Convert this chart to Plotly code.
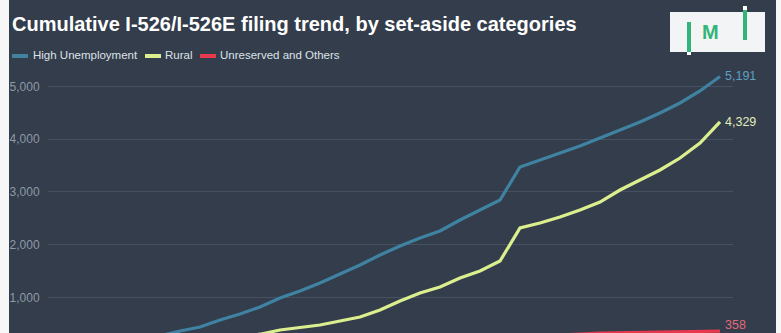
import pandas as pd
import plotly.graph_objects as go

# Monthly periods (x axis)
periods = [d.strftime("%b %Y") for d in pd.date_range("2022-06-01", periods=34, freq="MS")]

# Cumulative filings by set-aside category
high_unemployment = [20, 60, 100, 150, 200, 270, 360, 436, 570, 683, 816, 987,
                     1120, 1271, 1442, 1613, 1803, 1973, 2125, 2258, 2467, 2657,
                     2846, 3472, 3605, 3738, 3871, 4023, 4175, 4326, 4497, 4687,
                     4915, 5191]
rural = [5, 15, 30, 50, 70, 95, 125, 160, 200, 250, 300, 380,
         430, 474, 550, 626, 759, 930, 1082, 1195, 1366, 1499,
         1689, 2315, 2410, 2524, 2657, 2808, 3036, 3226, 3416, 3643,
         3928, 4329]
unreserved = [2, 8, 15, 22, 30, 40, 50, 60, 72, 84, 96, 108,
              120, 132, 145, 158, 170, 182, 195, 208, 220, 232,
              245, 258, 272, 286, 300, 320, 327, 333, 339, 345,
              352, 358]

series = [
    ("High Unemployment", high_unemployment, "#3f82a2", "#5e9fc2"),
    ("Rural", rural, "#dcef8f", "#e4ecbc"),
    ("Unreserved and Others", unreserved, "#e8384d", "#e06a78"),
]

W, H = 781, 333
L, R, T, B = 48, 48, 70, 0
PW, PH = W - L - R, H - T - B


def px(x):
    return (x - L) / PW


def py(y):
    return (H - B - y) / PH


BG = "#333d4b"
GRID = "#465061"

fig = go.Figure()
for name, vals, color, _ in series:
    fig.add_trace(go.Scatter(x=periods, y=vals, mode="lines", name=name,
                             line=dict(color=color, width=3.2),
                             showlegend=False, hoverinfo="skip"))

# End-of-line value labels (the lowest one sits just above the bottom edge)
for name, vals, color, label_color in series:
    low = vals[-1] < 1000
    fig.add_annotation(x=periods[-1], y=vals[-1], text=f"{vals[-1]:,}",
                       xanchor="left", yanchor="bottom" if low else "middle",
                       xshift=3, yshift=-3 if low else 0,
                       showarrow=False,
                       font=dict(family="Liberation Sans, Arial", size=12.5,
                                 color=label_color))

shapes = [
    # dark panel
    dict(type="rect", xref="paper", yref="paper", x0=px(9), x1=px(776),
         y0=py(H + 5), y1=py(-5), fillcolor=BG, line=dict(width=0),
         layer="below"),
]

# Legend
legend_items = [(12, 31), (145, 163), (200, 218)]
for (sx, tx), (name, _, color, _) in zip(legend_items, series):
    shapes.append(dict(type="line", xref="paper", yref="paper",
                       x0=px(sx), x1=px(sx + 16), y0=py(56), y1=py(56),
                       line=dict(color=color, width=4)))
    fig.add_annotation(xref="paper", yref="paper", x=px(tx), y=py(55),
                       text=name, xanchor="left", yanchor="middle",
                       showarrow=False,
                       font=dict(family="Liberation Sans, Arial", size=11.5,
                                 color="#dde2e8"))

# Logo
GREEN = "#33b57a"
shapes += [
    dict(type="rect", xref="paper", yref="paper", x0=px(670), x1=px(765),
         y0=py(52), y1=py(12), fillcolor="#f3f4f6", line=dict(width=0)),
    dict(type="line", xref="paper", yref="paper", x0=px(689), x1=px(689),
         y0=py(52), y1=py(22), line=dict(color=GREEN, width=4)),
    dict(type="rect", xref="paper", yref="paper", x0=px(687), x1=px(691),
         y0=py(55), y1=py(52), fillcolor="#ffffff", line=dict(width=0)),
    dict(type="line", xref="paper", yref="paper", x0=px(745), x1=px(745),
         y0=py(40), y1=py(10), line=dict(color=GREEN, width=4)),
    dict(type="rect", xref="paper", yref="paper", x0=px(743), x1=px(747),
         y0=py(10), y1=py(6), fillcolor="#ffffff", line=dict(width=0)),
]
fig.add_annotation(xref="paper", yref="paper", x=px(710), y=py(32),
                   text="<b>M</b>", xanchor="center", yanchor="middle",
                   showarrow=False,
                   font=dict(family="Liberation Sans, Arial", size=20,
                             color=GREEN))

fig.update_layout(
    width=W, height=H,
    margin=dict(l=L, r=R, t=T, b=B, pad=0),
    paper_bgcolor="#f7f7f7",
    plot_bgcolor="rgba(0,0,0,0)",
    shapes=shapes,
    title=dict(text="<b>Cumulative I-526/I-526E filing trend, by set-aside categories</b>",
               x=12 / W, xanchor="left",
               y=1 - 24 / H, yanchor="middle",
               font=dict(family="Liberation Sans, Arial", size=20,
                         color="#ffffff")),
    showlegend=False,
)

fig.update_xaxes(range=[-0.6, 33.65], showgrid=False, showticklabels=False,
                 zeroline=False, showline=False, fixedrange=True)
fig.update_yaxes(range=[323, 5313], tickvals=[1000, 2000, 3000, 4000, 5000],
                 tickformat=",", showgrid=True, gridcolor=GRID, gridwidth=1,
                 zeroline=False, showline=False, ticks="outside", ticklen=5,
                 tickcolor="rgba(0,0,0,0)",
                 tickfont=dict(family="Liberation Sans, Arial", size=12,
                               color="#8f99a6"))

fig.write_html("out.html")
